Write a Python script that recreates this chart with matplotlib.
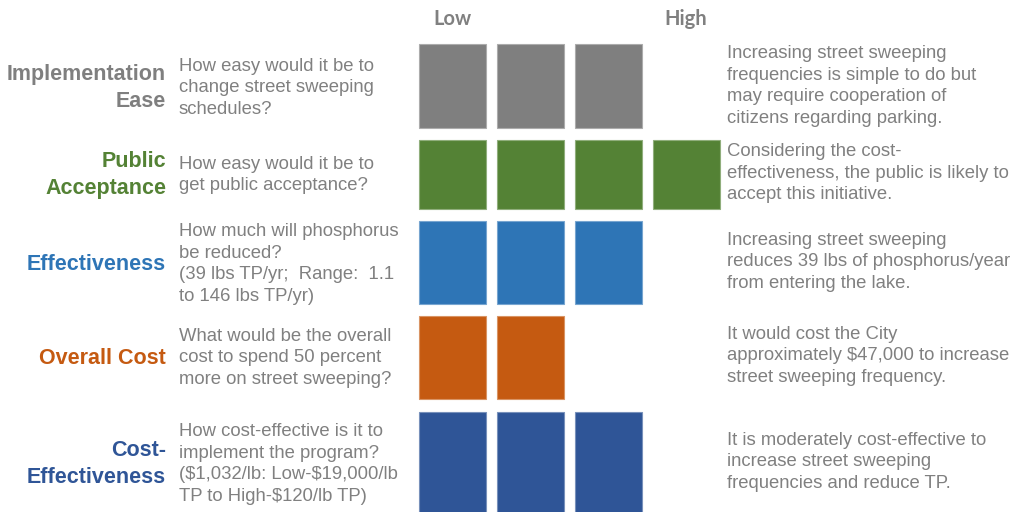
import matplotlib
matplotlib.use("Agg")
import matplotlib.pyplot as plt
from matplotlib.colors import to_rgb

# Criteria, ratings (number of filled boxes out of 4) and colours
criteria = ["Implementation\nEase", "Public\nAcceptance", "Effectiveness",
            "Overall Cost", "Cost-\nEffectiveness"]
ratings = [3, 4, 3, 2, 3]
colors = ["#7f7f7f", "#548235", "#2e75b6", "#c55a11", "#2f5597"]

questions = [
    "How easy would it be to\nchange street sweeping\nschedules?",
    "How easy would it be to\nget public acceptance?",
    "How much will phosphorus\nbe reduced?\n(39 lbs TP/yr;  Range:  1.1\nto 146 lbs TP/yr)",
    "What would be the overall\ncost to spend 50 percent\nmore on street sweeping?",
    "How cost-effective is it to\nimplement the program?\n($1,032/lb: Low-$19,000/lb\nTP to High-$120/lb TP)",
]
comments = [
    "Increasing street sweeping\nfrequencies is simple to do but\nmay require cooperation of\ncitizens regarding parking.",
    "Considering the cost-\neffectiveness, the public is likely to\naccept this initiative.",
    "Increasing street sweeping\nreduces 39 lbs of phosphorus/year\nfrom entering the lake.",
    "It would cost the City\napproximately $47,000 to increase\nstreet sweeping frequency.",
    "It is moderately cost-effective to\nincrease street sweeping\nfrequencies and reduce TP.",
]
scale_labels = ["Low", "High"]

# Layout (figure pixel coordinates)
W, H = 1011, 512
col_left = [419, 497, 575, 653]
box_w = 67
row_top = [44, 140, 221, 316, 412]
row_h = [84, 69, 83, 83, 110]
text_center = [88, 175, 264, 358, 464]

fig = plt.figure(figsize=(W / 100, H / 100), dpi=100)
ax = fig.add_axes([0, 0, 1, 1])
ax.set_xlim(0, W)
ax.set_ylim(H, 0)
ax.axis("off")

grey_text = "#808080"


def lighter(c, f=0.35):
    r, g, b = to_rgb(c)
    return (r + (1 - r) * f, g + (1 - g) * f, b + (1 - b) * f)


for i, (n, c) in enumerate(zip(ratings, colors)):
    xs = [col_left[j] for j in range(n)]
    ax.bar(xs, [row_h[i]] * n, width=box_w, bottom=row_top[i], align="edge",
           color=c, edgecolor=lighter(c), linewidth=0.8)

    ax.text(166, text_center[i], criteria[i], ha="right", va="center",
            fontsize=15.5, fontweight="bold", color=c,
            family="Liberation Sans", linespacing=1.34, parse_math=False)
    ax.text(179, text_center[i], questions[i], ha="left", va="center",
            fontsize=13.3, color=grey_text, family="Liberation Sans",
            linespacing=1.34, parse_math=False)
    ax.text(727, text_center[i] - 2, comments[i], ha="left", va="center",
            fontsize=13.3, color=grey_text, family="Liberation Sans",
            linespacing=1.36, parse_math=False)

ax.text(452, 19, scale_labels[0], ha="center", va="center", fontsize=14.5,
        fontweight="bold", color=grey_text, family="Lato")
ax.text(686, 19, scale_labels[1], ha="center", va="center", fontsize=14.5,
        fontweight="bold", color=grey_text, family="Lato")

fig.savefig("out.png", dpi=100, facecolor="white")
